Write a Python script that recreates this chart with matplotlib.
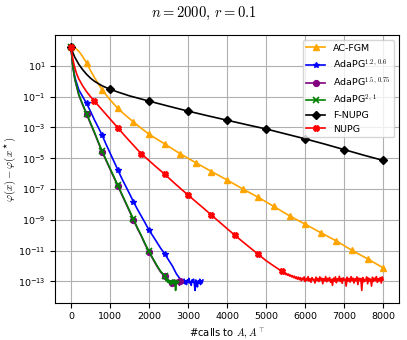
import numpy as np
import matplotlib
matplotlib.use("Agg")
import matplotlib.pyplot as plt
from matplotlib.ticker import NullLocator

plt.rcParams['mathtext.fontset'] = 'cm'
plt.rcParams['font.size'] = 6.8

# AC-FGM
acfgm_calls = [0, 100, 200, 300, 400, 500, 600, 700, 800, 1000, 1200, 1400, 1600, 1800,
               2000, 2400, 2800, 3200, 3600, 4000, 4400, 4800, 5200, 5600, 6000, 6400,
               6800, 7200, 7600, 8000]
acfgm_gap = [2.22, 2.18, 1.95, 1.6, 1.18, 0.7, 0.25, -0.17, -0.57, -1.2, -1.76, -2.22, -2.64,
             -3.05, -3.44, -4.07, -4.71, -5.29, -5.86, -6.41, -6.99, -7.54, -8.13, -8.74,
             -9.28, -9.83, -10.37, -10.98, -11.53, -12.12]

# AdaPG^{1.2,0.6}
ada12_calls = [0, 50, 100, 200, 300, 400, 500, 600, 700, 800, 900, 1000, 1100, 1200, 1300,
               1400, 1500, 1600, 1700, 1800, 1900, 2000, 2100, 2200, 2300, 2400, 2500,
               2600, 2700, 2800]
ada12_gap = [2.22, 1.0, 0.25, -0.55, -1.0, -1.44, -1.95, -2.5, -3.0, -3.51, -4.1, -4.65,
             -5.2, -5.75, -6.3, -6.8, -7.3, -7.82, -8.3, -8.75, -9.2, -9.67, -10.05, -10.45,
             -10.85, -11.2, -11.6, -12.0, -12.5, -12.85]
ada12_floor_calls = np.arange(2820, 3381, 20)
ada12_floor_gap = [-12.95, -13.05, -12.9, -13.1, -12.85, -13.15, -12.95, -13.2, -12.9,
                   -13.05, -12.8, -13.1, -13.0, -13.25, -12.9, -13.05, -12.85, -13.15,
                   -13.58, -12.9, -13.1, -13.35, -12.95, -13.1, -12.85, -13.2, -12.95,
                   -13.1, -12.9]

# AdaPG^{1.5,0.75}
ada15_calls = [0, 50, 100, 200, 300, 400, 500, 600, 700, 800, 900, 1000, 1100, 1200, 1300,
               1400, 1500, 1600, 1700, 1800, 1900, 2000, 2100, 2200, 2300, 2400]
ada15_gap = [2.22, 0.9, 0.1, -0.9, -1.55, -2.14, -2.75, -3.35, -3.98, -4.6, -5.15, -5.7,
             -6.25, -6.78, -7.35, -7.9, -8.45, -9.0, -9.55, -10.05, -10.6, -11.1, -11.55,
             -12.0, -12.4, -12.66]
ada15_floor_calls = np.arange(2420, 2841, 20)
ada15_floor_gap = [-12.8, -12.9, -12.95, -13.0, -12.9, -13.1, -13.05, -12.95, -13.24, -13.07,
                   -13.0, -12.9, -13.2, -13.0, -13.1, -12.9, -13.15, -13.0, -13.25, -12.95,
                   -13.1, -13.0]

# AdaPG^{2,1}
ada2_calls = [0, 50, 100, 200, 300, 400, 500, 600, 700, 800, 900, 1000, 1100, 1200, 1300,
              1400, 1500, 1600, 1700, 1800, 1900, 2000, 2100, 2200, 2300, 2400]
ada2_gap = [2.22, 0.95, 0.15, -0.85, -1.5, -2.1, -2.7, -3.3, -3.93, -4.55, -5.1, -5.65,
            -6.2, -6.75, -7.3, -7.85, -8.4, -8.95, -9.5, -10.0, -10.55, -11.05, -11.5,
            -11.95, -12.35, -12.62]
ada2_floor_calls = np.arange(2420, 2761, 20)
ada2_floor_gap = [-12.8, -12.95, -12.85, -13.05, -12.9, -13.1, -12.95, -13.2, -13.0, -12.9,
                  -13.15, -13.0, -12.9, -13.58, -13.05, -12.95, -13.1, -13.0]

# F-NUPG
fnupg_calls = [0, 50, 100, 200, 300, 400, 500, 600, 700, 800, 1000, 1200, 1500, 2000, 2500,
               3000, 3500, 4000, 4500, 5000, 5500, 6000, 6500, 7000, 7500, 8000]
fnupg_gap = [2.22, 1.85, 1.55, 1.1, 0.75, 0.45, 0.2, 0.0, -0.15, -0.3, -0.52, -0.7, -0.95,
             -1.29, -1.62, -1.94, -2.24, -2.53, -2.82, -3.10, -3.42, -3.74, -4.08, -4.44,
             -4.8, -5.14]

# NUPG
nupg_calls = [0, 50, 100, 150, 200, 300, 400, 500, 600, 800, 1000, 1200, 1400, 1600, 1800,
              2000, 2200, 2400, 2600, 2800, 3000, 3200, 3400, 3600, 3800, 4000, 4200, 4400,
              4600, 4800, 5000, 5200, 5400]
nupg_gap = [2.22, 1.4, 0.85, 0.45, 0.15, -0.3, -0.68, -1.0, -1.29, -1.87, -2.45, -3.03, -3.6,
            -4.15, -4.71, -5.15, -5.6, -6.03, -6.5, -6.95, -7.39, -7.82, -8.25, -8.69,
            -9.13, -9.57, -10.0, -10.42, -10.83, -11.24, -11.65, -12.0, -12.33]
nupg_floor_calls = np.arange(5425, 8001, 25)
nupg_floor_gap = [
    -12.40, -12.50, -12.42, -12.55, -12.48, -12.60, -12.52, -12.65,
    -12.58, -12.70, -12.62, -12.75, -12.66, -12.80, -12.70, -12.85,
    -12.72, -12.88, -12.75, -12.95, -12.78, -12.90, -12.70, -13.00,
    -12.80, -12.92, -12.68, -12.98, -12.82, -13.05, -12.75, -12.90,
    -12.85, -13.10, -12.72, -12.95, -12.80, -13.00, -12.70, -12.92,
    -12.78, -13.15, -12.82, -12.96, -12.68, -13.02, -12.80, -12.94,
    -12.74, -13.05, -12.86, -13.25, -12.78, -12.98, -12.70, -13.08,
    -12.82, -12.95, -12.66, -13.00, -12.80, -13.12, -12.76, -12.92,
    -12.84, -13.30, -12.72, -12.98, -12.80, -13.04, -12.68, -12.95,
    -12.78, -13.10, -12.82, -12.96, -12.70, -13.20, -12.78, -12.94,
    -12.80, -13.58, -12.74, -13.02, -12.86, -12.96, -12.70, -13.15,
    -12.78, -12.98, -12.84, -13.30, -12.72, -13.00, -12.80, -12.94,
    -12.68, -13.06, -12.82, -12.96, -12.74, -13.10, -12.70, -12.90]

# where markers sit (in calls)
acfgm_marks = list(range(0, 8001, 400))
ada12_marks = list(range(0, 2401, 400))
ada15_marks = list(range(0, 2401, 400)) + [2600, 2800]
ada2_marks = list(range(0, 2401, 400))
fnupg_marks = list(range(0, 8001, 1000))
nupg_marks = list(range(0, 5401, 600))


def series(calls, gap, floor_calls=None, floor_gap=None):
    x = list(calls)
    y = list(gap)
    if floor_calls is not None:
        x += list(floor_calls)
        y += list(floor_gap)
    return np.array(x), 10.0 ** np.array(y)


def plot(ax, x, y, marks, **kw):
    idx = [i for i, c in enumerate(x) if c in marks]
    ax.plot(x, y, markevery=idx, lw=1.2, ms=4.2, **kw)


fig = plt.figure(figsize=(4.07, 3.4), dpi=100)
ax = fig.add_axes([0.136, 0.110, 0.844, 0.787])

plot(ax, *series(acfgm_calls, acfgm_gap), acfgm_marks,
     color='orange', marker='^', label='AC-FGM')
plot(ax, *series(ada12_calls, ada12_gap, ada12_floor_calls, ada12_floor_gap), ada12_marks,
     color='blue', marker='*', label=r'AdaPG$^{1.2,\,0.6}$')
plot(ax, *series(ada15_calls, ada15_gap, ada15_floor_calls, ada15_floor_gap), ada15_marks,
     color='purple', marker='o', label=r'AdaPG$^{1.5,\,0.75}$')
plot(ax, *series(ada2_calls, ada2_gap, ada2_floor_calls, ada2_floor_gap), ada2_marks,
     color='green', marker='x', mew=1.2, label=r'AdaPG$^{2,\,1}$')
plot(ax, *series(fnupg_calls, fnupg_gap), fnupg_marks,
     color='black', marker='D', label='F-NUPG')
plot(ax, *series(nupg_calls, nupg_gap, nupg_floor_calls, nupg_floor_gap), nupg_marks,
     color='red', marker='X', label='NUPG')

ax.set_yscale('log')
ax.set_xlim(-400, 8400)
ax.set_ylim(10 ** -14.37, 10 ** 3.0)
ax.set_xticks(range(0, 8001, 1000))
ax.set_yticks([10.0 ** k for k in range(1, -14, -2)])
ax.yaxis.set_minor_locator(NullLocator())
ax.grid(True)

fig.suptitle(r'$n = 2000,\, r = 0.1$', fontsize=10.5, y=0.985)
ax.set_xlabel(r'#calls to $A, A^\top$', fontsize=7.2)
ax.set_ylabel(r'$\varphi(x) - \varphi(x^\star)$', fontsize=7.8)
ax.yaxis.set_label_coords(-0.11, 0.5)
ax.legend(loc='upper right')

fig.savefig('out.png', dpi=100)
